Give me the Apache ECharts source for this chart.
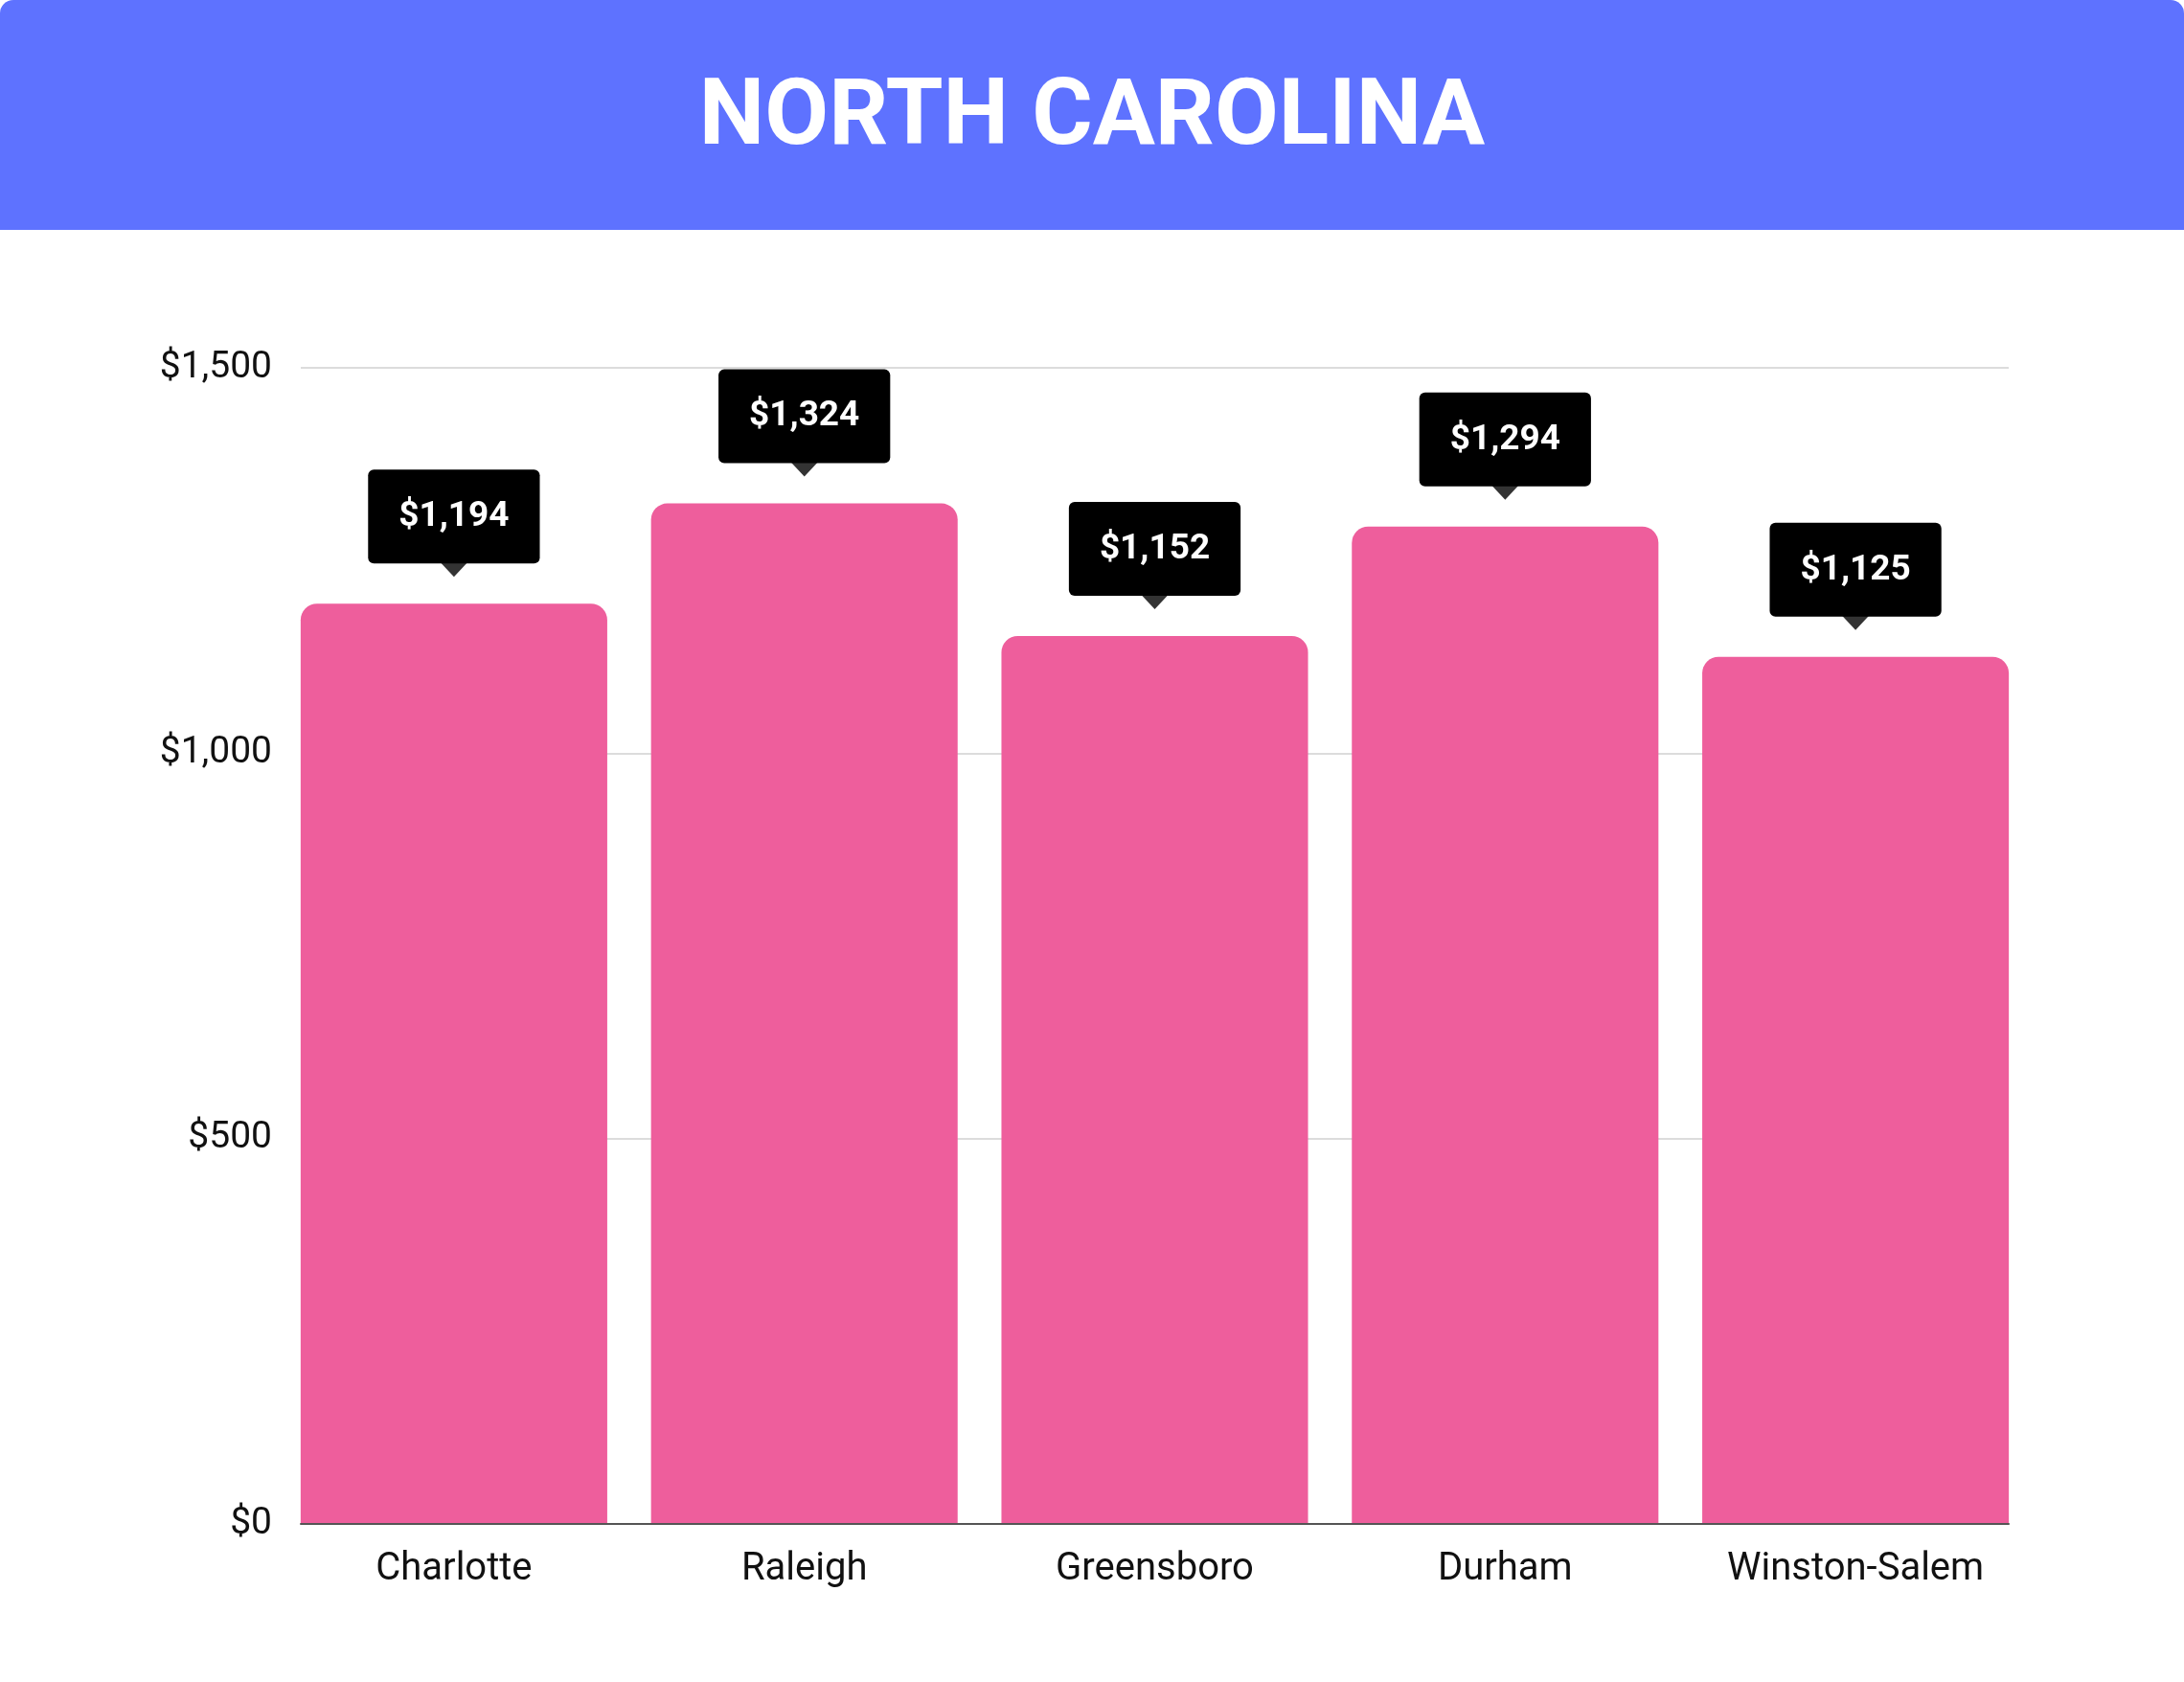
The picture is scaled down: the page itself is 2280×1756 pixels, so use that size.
<!DOCTYPE html>
<html>
<head>
<meta charset="utf-8">
<script src="https://cdn.jsdelivr.net/npm/echarts@6/dist/echarts.min.js"></script>
<style>
html,body{margin:0;padding:0;background:#fff;}
#chart{width:2280px;height:1756px;}
</style>
</head>
<body>
<div id="chart"></div>
<script>
var cities = ['Charlotte', 'Raleigh', 'Greensboro', 'Durham', 'Winston-Salem'];
var rents = [1194, 1324, 1152, 1294, 1125];
var yTicks = [0, 500, 1000, 1500];

function money(v) {
	return '$' + v.toLocaleString('en-US');
}

var myChart = echarts.init(document.getElementById('chart'));
var option = {
	backgroundColor: '#ffffff',
	animation: false,
	graphic: [{
		type: 'rect',
		shape: { x: 0, y: 0, width: 2280, height: 240, r: [14, 14, 0, 0] },
		style: { fill: '#5E72FF' }
	}, {
		type: 'text',
		x: 1140,
		y: 126,
		style: {
			text: 'NORTH CAROLINA',
			fill: '#ffffff',
			font: 'bold 97px Roboto',
			align: 'center',
			verticalAlign: 'middle'
		}
	}],
	// grid 0: bars, spans a bit wider so bars touch the axis ends
	// grid 1: axis line, split lines and y labels
	grid: [
		{ left: 291, right: 160, top: 384, bottom: 165 },
		{ left: 314, right: 183, top: 384, bottom: 165 }
	],
	xAxis: [{
		type: 'category',
		gridIndex: 0,
		data: cities,
		axisLine: { show: false },
		axisTick: { show: false },
		axisLabel: { color: '#111111', fontSize: 40, fontFamily: 'Roboto', margin: 28 }
	}, {
		type: 'category',
		gridIndex: 1,
		data: cities,
		axisLine: { lineStyle: { color: '#555555', width: 2 } },
		axisTick: { show: false },
		axisLabel: { show: false },
		z: 10
	}],
	yAxis: [{
		type: 'value',
		gridIndex: 0,
		min: yTicks[0],
		max: yTicks[yTicks.length - 1],
		interval: 500,
		show: false
	}, {
		type: 'value',
		gridIndex: 1,
		min: yTicks[0],
		max: yTicks[yTicks.length - 1],
		interval: 500,
		axisLine: { show: false },
		axisTick: { show: false },
		splitLine: { lineStyle: { color: '#d0d0d0', width: 1.5 } },
		axisLabel: {
			color: '#111111', fontSize: 39, fontFamily: 'Roboto', margin: 30,
			formatter: function (v) { return money(v); }
		}
	}],
	series: [{
		type: 'bar',
		xAxisIndex: 0,
		yAxisIndex: 0,
		data: rents,
		barCategoryGap: '12.5%',
		itemStyle: { color: '#EE5E9C', borderRadius: [17, 17, 0, 0] },
		label: {
			show: true,
			position: 'top',
			distance: 42,
			formatter: function (p) { return money(p.value); },
			color: '#ffffff',
			fontWeight: 'bold',
			fontSize: 37,
			fontFamily: 'Roboto',
			backgroundColor: '#000000',
			borderRadius: 6,
			padding: [31, 32, 30, 32]
		}
	}, {
		type: 'scatter',
		xAxisIndex: 0,
		yAxisIndex: 0,
		data: rents,
		symbol: 'triangle',
		symbolRotate: 180,
		symbolSize: [30, 16],
		symbolOffset: [0, -36],
		itemStyle: { color: '#000000' },
		z: 5
	}]
};
myChart.setOption(option);
</script>
</body>
</html>
